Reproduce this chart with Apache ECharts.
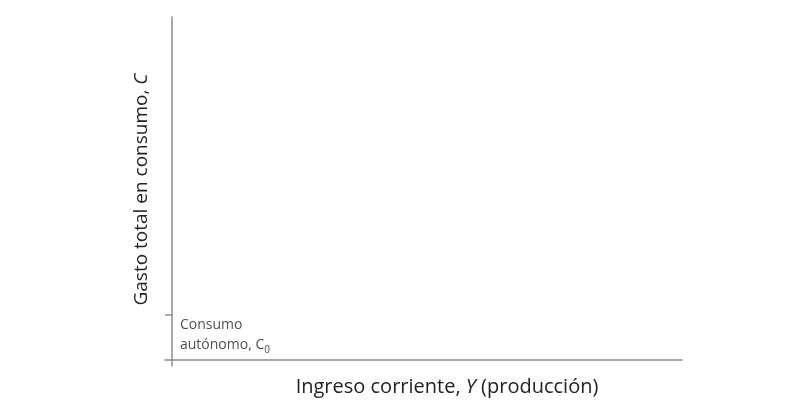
<!DOCTYPE html>
<html><head><meta charset="utf-8">
<script src="https://cdn.jsdelivr.net/npm/echarts@6/dist/echarts.min.js"></script>
<style>html,body{margin:0;padding:0;background:#fff}#c{width:810px;height:406px}</style>
</head><body><div id="c"></div>
<script>
// Data
const xRange = [-1.37, 100];
const yRange = [-1.75, 100];
const yTicks = [13.1];              // C0 level
const autonomousPoint = [[0, 13.1]];
const xName = 'Ingreso corriente, {i|Y} (producción)';
const yName = 'Gasto total en consumo, {i|C}';
const pointLabel = '{a|Consumo}\n{a|autónomo, C}{s|0}';

const font = '"Open Sans", "Noto Sans", sans-serif';
const axisColor = '#8c8c8c';
const textColor = '#222';

const chart = echarts.init(document.getElementById('c'));
chart.setOption({
  animation: false,
  grid: { left: 165, right: 128, top: 17, bottom: 40, outerBoundsMode: 'none', containLabel: false },
  xAxis: {
    type: 'value', min: xRange[0], max: xRange[1],
    axisLine: { show: true, onZero: true, lineStyle: { color: axisColor, width: 1.5 } },
    axisTick: { show: false }, axisLabel: { show: false }, splitLine: { show: false },
    name: xName, nameLocation: 'middle', nameGap: 11,
    nameTextStyle: {
      fontFamily: font, fontSize: 20, color: textColor, padding: [0, 0, 0, 47],
      rich: { i: { fontFamily: font, fontSize: 20, color: textColor, fontStyle: 'italic' } }
    }
  },
  yAxis: {
    type: 'value', min: yRange[0], max: yRange[1],
    axisLine: { show: true, onZero: true, lineStyle: { color: axisColor, width: 1.5 } },
    axisTick: { show: true, customValues: yTicks, length: 7, lineStyle: { color: axisColor, width: 1.5 } },
    axisLabel: { show: false }, splitLine: { show: false },
    name: yName, nameLocation: 'middle', nameGap: 14, nameRotate: 90,
    nameTextStyle: {
      fontFamily: font, fontSize: 19, color: textColor, padding: [0, 0, 0, 4],
      rich: { i: { fontFamily: font, fontSize: 19, color: textColor, fontStyle: 'italic' } }
    }
  },
  series: [{
    type: 'scatter', data: autonomousPoint, symbolSize: 0, silent: true,
    label: {
      show: true, position: 'right', distance: 8, verticalAlign: 'top', offset: [0, 0],
      formatter: pointLabel,
      rich: {
        a: { fontFamily: font, fontSize: 14, color: textColor, lineHeight: 20 },
        s: { fontFamily: font, fontSize: 10, color: textColor, verticalAlign: 'bottom', padding: [7, 0, 0, 0], lineHeight: 20 }
      }
    }
  }]
});
</script></body></html>
